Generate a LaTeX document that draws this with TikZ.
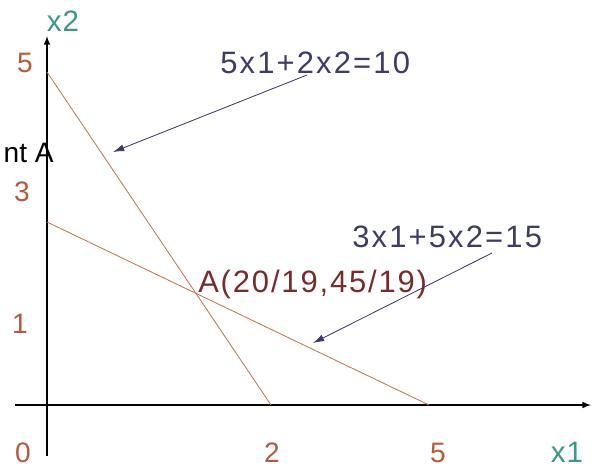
\documentclass[tikz,border=0pt]{standalone}
\usepackage{fontspec}
\setmainfont{Liberation Sans}
\usepackage{tikz}
\usetikzlibrary{arrows.meta}

\definecolor{numcol}{HTML}{B65A3A}
\definecolor{linecol}{HTML}{C27650}
\definecolor{eqcol}{HTML}{3C3C66}
\definecolor{ptcol}{HTML}{7A2A2A}
\definecolor{axcol}{HTML}{3A9888}

\tikzset{
  numlbl/.style={text=numcol,inner sep=0pt,font=\fontsize{20}{24}\selectfont},
  axlbl/.style={text=axcol,inner sep=0pt,font=\fontsize{21}{25}\selectfont\addfontfeature{LetterSpace=4}},
  eqlbl/.style={text=eqcol,inner sep=0pt,anchor=base west,font=\fontsize{22}{26}\selectfont\addfontfeature{LetterSpace=7}},
  pointer/.style={eqcol,line width=0.6pt,-{Latex[length=8pt,width=5pt]}},
  constraint/.style={linecol,line width=0.6pt}
}

\begin{document}
\begin{tikzpicture}[x=0.025cm,y=-0.025cm]
  \useasboundingbox (0,0) rectangle (592,470);
  % axes
  \coordinate (xs) at (15,405);
  \coordinate (xe) at (591,405);
  \coordinate (ys) at (47,456);
  \coordinate (ye) at (47,36);
  \draw[line width=1.1pt,-latex] (xs) -- (xe);
  \draw[line width=1.1pt,-latex] (ys) -- (ye);
  % the two constraints
  \coordinate (c1a) at (47,72);
  \coordinate (c1b) at (271,405);
  \coordinate (c2a) at (47,222);
  \coordinate (c2b) at (429,405);
  \draw[constraint] (c1a) -- (c1b);
  \draw[constraint] (c2a) -- (c2b);
  % axis labels
  \node[axlbl] (x2) at (63,21) {x2};
  \node[axlbl] (x1) at (567,452) {x1};
  \node[numlbl] (y5) at (25,63) {5};
  \node[numlbl] (y3) at (22,192) {3};
  \node[numlbl] (y1) at (20,324) {1};
  \node[numlbl] (x0) at (23,453) {0};
  \node[numlbl] (xtwo) at (272,453) {2};
  \node[numlbl] (xfive) at (438,453) {5};
  \node[inner sep=0pt,anchor=base east,font=\fontsize{20}{24}\selectfont] (pa) at (54,162) {nt A};
  % point A and the equations
  \node[eqlbl,text=ptcol,font=\fontsize{22}{26}\selectfont\addfontfeature{LetterSpace=6}] (ptA) at (198,292) {A(20/19,45/19)};
  \node[eqlbl] (eq1) at (220,73) {5x1+2x2=10};
  \node[eqlbl] (eq2) at (352,247) {3x1+5x2=15};
  \coordinate (t1) at (307,75);
  \coordinate (h1) at (113,152);
  \coordinate (t2) at (492,253);
  \coordinate (h2) at (313,343);
  \draw[pointer] (t1) -- (h1);
  \draw[pointer] (t2) -- (h2);
\end{tikzpicture}
\end{document}
